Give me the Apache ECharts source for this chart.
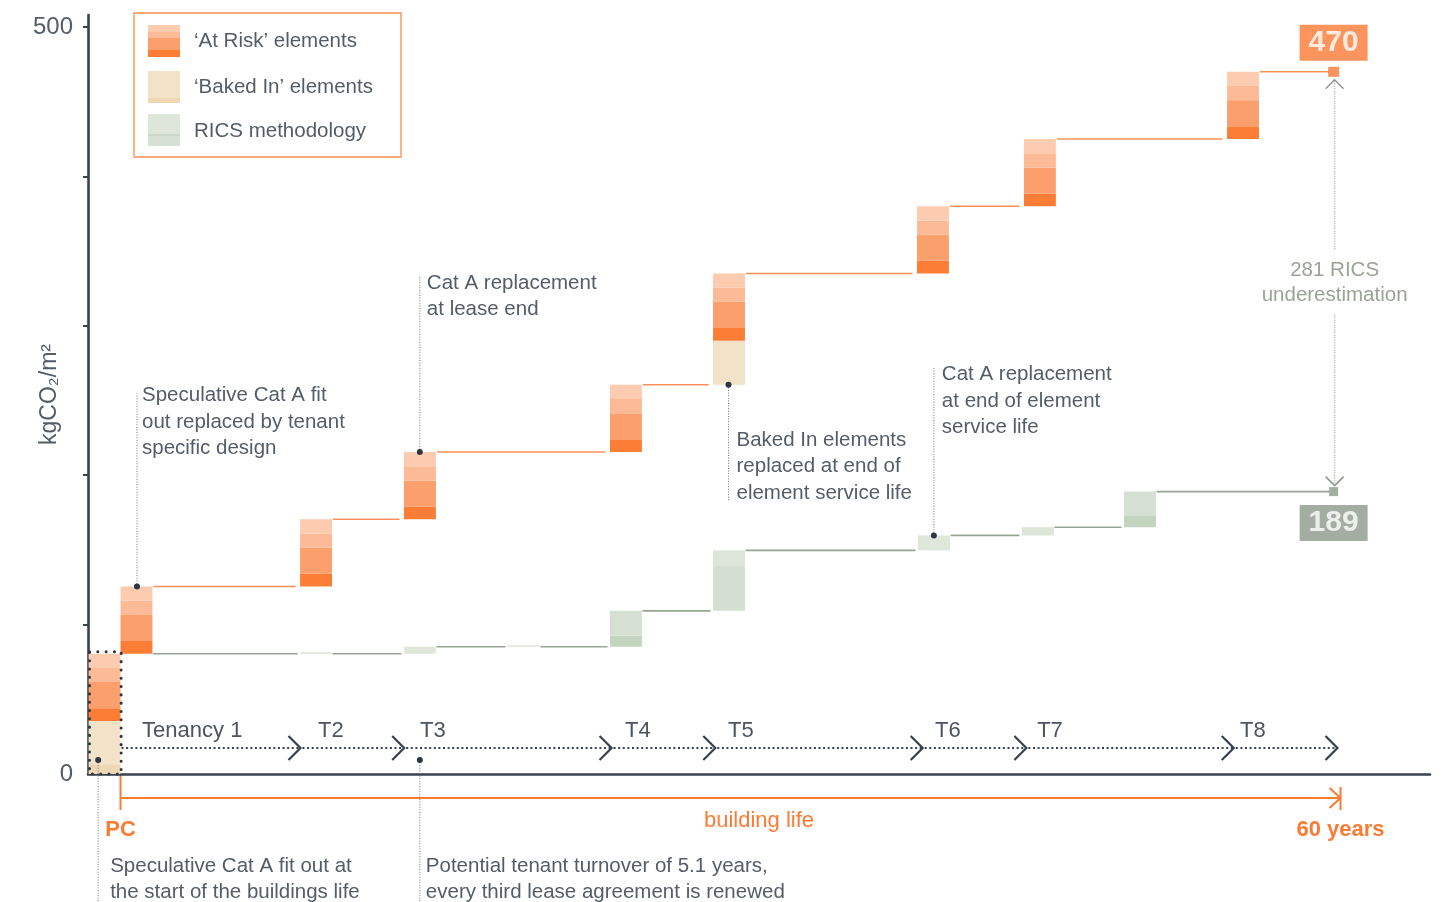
<!DOCTYPE html>
<html><head><meta charset="utf-8">
<script src="https://cdn.jsdelivr.net/npm/echarts@6/dist/echarts.min.js"></script>
<style>html,body{margin:0;padding:0;background:#fff}#c{width:1452px;height:902px}</style>
</head><body><div id="c"></div>
<script>
// ---------------- DATA (years, kgCO2/m2) ----------------
const atRiskYears = [-1.57, 0, 8.83, 13.94, 24.07, 29.14, 39.17, 44.43, 54.42]; // PC + replacements
const atRiskParts = [8.5, 17.5, 9.5, 9.5];          // bottom -> top element groups
const bakedInPC = [6, 29.5];                         // bottom -> top
const bakedInReplaceYears = [29.14];
const bakedInReplaceValues = [29.5];
const ricsYears = [8.83, 13.94, 19.05, 24.07, 29.14, 39.22, 44.33, 49.35];
const ricsParts = [[0], [4.7], [0], [7.5, 16.5], [30.5, 10], [10], [5.5], [7.4, 16.4]];
const finalYear = 59.66;
const buildingLife = 60;
const tenancyBounds = [0, 8.85, 13.95, 24.15, 29.25, 39.45, 44.55, 54.75, 59.85];
const tenancyLabels = ['Tenancy 1', 'T2', 'T3', 'T4', 'T5', 'T6', 'T7', 'T8'];
const tenancyLabelYears = [1.06, 9.71, 14.73, 24.81, 29.88, 40.06, 45.08, 55.06];
const yTicks = [100, 200, 300, 400, 500];
const yLabels = [0, 500];

(function () {
// ---------------- STYLE ----------------
const FONT = 'Liberation Sans';
const TXT = '#545C69';
const DARK = '#38414E';
const ORANGE = '#FB7B35';
const barW = 1.57;
const atRiskColors = ['#FB7D36', '#FB9F6C', '#FCBA96', '#FDCBB0'];
const bakedColors = ['#EDD7B5', '#F2E2C8'];
const ricsColors = [['#DCE4D8'], ['#DFE7DB'], ['#DCE4D8'], ['#C3D5BE', '#D5DFD2'], ['#D5DFD1', '#DDE5D9'], ['#DFE7DB'], ['#DDE5D9'], ['#C3D5BE', '#D5DFD2']];
const PAL = [];
const ci = c => { let i = PAL.indexOf(c); if (i < 0) { PAL.push(c); i = PAL.length - 1; } return i; };

// ---------------- BUILD BLOCKS ----------------
const atRiskData = [], bakedData = [], ricsData = [], orangeLines = [], greenLines = [];
let level = 0;
const orangeBars = [];
atRiskYears.forEach((yr, i) => {
  if (i === 0) bakedInPC.forEach((v, k) => { bakedData.push([yr, level, yr + barW, level + v, ci(bakedColors[k])]); level += v; });
  const bi = bakedInReplaceYears.indexOf(yr);
  if (bi >= 0) { bakedData.push([yr, level, yr + barW, level + bakedInReplaceValues[bi], ci(bakedColors[1])]); level += bakedInReplaceValues[bi]; }
  atRiskParts.forEach((v, k) => { atRiskData.push([yr, level, yr + barW, level + v, ci(atRiskColors[k])]); level += v; });
  orangeBars.push({ x: yr, top: level });
});
const orangeTotal = level;
orangeBars.forEach((b, i) => {
  const x0 = b.x + barW + 0.05;
  const x1 = (i < orangeBars.length - 1 ? orangeBars[i + 1].x : finalYear) - 0.22;
  if (x1 > x0) orangeLines.push([x0, x1, b.top]);
});
let g = orangeBars[0].top;
let prevRight = atRiskYears[1] + barW;
ricsYears.forEach((yr, i) => {
  greenLines.push([prevRight + 0.03, yr - 0.12, g]);
  ricsParts[i].forEach((v, k) => { ricsData.push([yr, g, yr + barW, g + v, ci(ricsColors[i][k])]); g += v; });
  prevRight = yr + barW;
});
greenLines.push([prevRight + 0.03, finalYear - 0.2, g]);
const ricsTotal = g;

function blockRender(params, api) {
  const p0 = api.coord([api.value(0), api.value(1)]);
  const p1 = api.coord([api.value(2), api.value(3)]);
  const h = Math.max(p0[1] - p1[1], 1.5);
  return { type: 'rect', shape: { x: p0[0], y: p0[1] - h, width: p1[0] - p0[0], height: h }, style: { fill: PAL[api.value(4)] } };
}
function lineRender(color) {
  return function (params, api) {
    const a = api.coord([api.value(0), api.value(2)]), b = api.coord([api.value(1), api.value(2)]);
    return { type: 'line', shape: { x1: a[0], y1: a[1], x2: b[0], y2: b[1] }, style: { stroke: color, lineWidth: 1.6 } };
  };
}
const tenancyData = tenancyLabels.map((t, i) => [tenancyBounds[i], tenancyBounds[i + 1], i, tenancyLabelYears[i]]);
function tenancyRender(params, api) {
  const idx = api.value(2);
  const base = api.coord([0, 0])[1];
  const y = base - 26;
  const a = api.coord([api.value(0), 0])[0] + (idx === 0 ? 1 : 2);
  const b = api.coord([api.value(1), 0])[0];
  const lx = api.coord([api.value(3), 0])[0];
  return {
    type: 'group', children: [
      { type: 'line', shape: { x1: a, y1: y, x2: b - 1, y2: y }, style: { stroke: DARK, lineWidth: 2, lineDash: [2, 2.6] } },
      { type: 'polyline', shape: { points: [[b - 12, y - 12], [b, y], [b - 12, y + 12]] }, style: { stroke: DARK, lineWidth: 2.2, fill: null } },
      { type: 'text', style: { text: tenancyLabels[idx], x: lx, y: y - 17, fontSize: 22, fontFamily: FONT, fill: '#4C5461', verticalAlign: 'middle', align: 'left' } }
    ]
  };
}

const chart = echarts.init(document.getElementById('c'), null, { renderer: 'canvas' });
chart.setOption({
  animation: false,
  backgroundColor: '#fff',
  grid: { left: 88, right: 22, top: 15, bottom: 128, outerBoundsMode: 'none', containLabel: false },
  xAxis: { type: 'value', min: -1.6, max: 64.4, axisLine: { show: true, onZero: false, lineStyle: { color: DARK, width: 2.6 } }, axisTick: { show: false }, axisLabel: { show: false }, splitLine: { show: false } },
  yAxis: {
    type: 'value', min: 0, max: 508,
    name: 'kgCO₂/m²', nameLocation: 'middle', nameGap: 27, nameMoveOverlap: false,
    nameTextStyle: { fontSize: 23, color: TXT, fontFamily: FONT },
    axisLine: { show: true, onZero: false, lineStyle: { color: DARK, width: 2.6 } },
    axisTick: { show: true, length: 5, customValues: yTicks, lineStyle: { color: DARK, width: 2 } },
    axisLabel: { customValues: yLabels, fontSize: 24, color: TXT, fontFamily: FONT, margin: 15 },
    splitLine: { show: false }
  },
  series: [
    { type: 'custom', name: 'green lines', renderItem: lineRender('#97A593'), data: greenLines, z: 2 },
    { type: 'custom', name: 'orange lines', renderItem: lineRender('#FB9058'), data: orangeLines, z: 2 },
    { type: 'custom', name: 'RICS methodology', renderItem: blockRender, data: ricsData, z: 3 },
    { type: 'custom', name: 'Baked In', renderItem: blockRender, data: bakedData, z: 3 },
    { type: 'custom', name: 'At Risk', renderItem: blockRender, data: atRiskData, z: 3 },
    { type: 'custom', name: 'tenancy', renderItem: tenancyRender, data: tenancyData, z: 4, clip: false },
    {
      type: 'scatter', symbol: 'rect', z: 6,
      data: [
        { value: [finalYear, orangeTotal], symbolSize: [11, 10], itemStyle: { color: ORANGE },
          label: { show: true, position: 'top', distance: 6, formatter: String(Math.round(orangeTotal)), backgroundColor: ORANGE, color: '#fff', fontSize: 30, fontWeight: 'bold', fontFamily: FONT, width: 68, height: 36, lineHeight: 36, align: 'center' } },
        { value: [finalYear, ricsTotal], symbolSize: [9, 9], itemStyle: { color: '#8C998A' },
          label: { show: true, position: 'bottom', distance: 9, formatter: String(Math.round(ricsTotal)), backgroundColor: '#8C998A', color: '#fff', fontSize: 30, fontWeight: 'bold', fontFamily: FONT, width: 68, height: 36, lineHeight: 36, align: 'center' } }
      ]
    }
  ]
});

// ---------------- ANNOTATIONS / LEGEND (graphic) ----------------
const P = (x, y) => chart.convertToPixel({ gridIndex: 0 }, [x, y]);
const gfx = [];
const FS = 20.5;
// legend
gfx.push({ type: 'rect', shape: { x: 134, y: 13, width: 267, height: 144 }, style: { fill: '#fff', stroke: '#FB8C4F', lineWidth: 1.3 }, z: 10 });
[[25, 7, atRiskColors[3]], [32, 6, atRiskColors[2]], [38, 12, atRiskColors[1]], [50, 7, atRiskColors[0]],
 [71, 27, bakedColors[1]], [98, 5, bakedColors[0]],
 [114, 20, '#DEE6DA'], [134, 2, '#CCD8C8'], [136, 10, '#D6E0D3']].forEach(s => {
  gfx.push({ type: 'rect', shape: { x: 148, y: s[0], width: 32, height: s[1] }, style: { fill: s[2] }, z: 11 });
});
[['‘At Risk’ elements', 41], ['‘Baked In’ elements', 87], ['RICS methodology', 131]].forEach(t => {
  gfx.push({ type: 'text', style: { text: t[0], x: 194, y: t[1], fontSize: FS, fontFamily: FONT, fill: TXT, verticalAlign: 'middle' }, z: 11 });
});

// PC dotted box
const pcTL = P(-1.6, orangeBars[0].top), pcBR = P(0.03, 0);
gfx.push({ type: 'rect', shape: { x: pcTL[0] + 1.5, y: pcTL[1] - 2, width: pcBR[0] - pcTL[0] - 1.5, height: pcBR[1] - pcTL[1] + 2 },
  style: { fill: null, stroke: '#2E3643', lineWidth: 3, lineDash: [0.1, 8.2], lineCap: 'round' }, z: 8 });

// building life
const bl0 = P(0, 0), bl1 = P(buildingLife, 0);
const blY = bl0[1] + 24;
gfx.push({ type: 'line', shape: { x1: bl0[0], y1: bl0[1] + 1, x2: bl0[0], y2: blY + 12 }, style: { stroke: ORANGE, lineWidth: 2 } });
gfx.push({ type: 'line', shape: { x1: bl0[0], y1: blY, x2: bl1[0], y2: blY }, style: { stroke: ORANGE, lineWidth: 2 } });
gfx.push({ type: 'polyline', shape: { points: [[bl1[0] - 11, blY - 10], [bl1[0], blY], [bl1[0] - 11, blY + 10]] }, style: { stroke: ORANGE, lineWidth: 2, fill: null } });
gfx.push({ type: 'line', shape: { x1: bl1[0], y1: blY - 11, x2: bl1[0], y2: blY + 12 }, style: { stroke: ORANGE, lineWidth: 2 } });
gfx.push({ type: 'text', style: { text: 'PC', x: bl0[0], y: blY + 32, fontSize: 22, fontWeight: 'bold', fontFamily: FONT, fill: ORANGE, align: 'center', verticalAlign: 'middle' } });
gfx.push({ type: 'text', style: { text: '60 years', x: bl1[0], y: blY + 32, fontSize: 22, fontWeight: 'bold', fontFamily: FONT, fill: ORANGE, align: 'center', verticalAlign: 'middle' } });
gfx.push({ type: 'text', style: { text: 'building life', x: P(31.4, 0)[0], y: blY + 23, fontSize: 22, fontFamily: FONT, fill: ORANGE, align: 'center', verticalAlign: 'middle' } });

// annotations: anchor in data coords, line end & text offsets in px
const annotations = [
  { at: [0.81, orangeBars[1].top], lineDy: -193, dx: 5, dy: -204, text: 'Speculative Cat A fit\nout replaced by tenant\nspecific design' },
  { at: [14.72, orangeBars[3].top], lineDy: -177, dx: 7, dy: -182, text: 'Cat A replacement\nat lease end' },
  { at: [29.9, orangeBars[4].top], lineDy: 116, dx: 8, dy: 42, text: 'Baked In elements\nreplaced at end of\nelement service life' },
  { at: [40.0, 159.7], lineDy: -169, dx: 8, dy: -174, text: 'Cat A replacement\nat end of element\nservice life' },
  { at: [-1.1, 9.4], lineDy: 150, dx: 12, dy: 93, text: 'Speculative Cat A fit out at\nthe start of the buildings life' },
  { at: [14.72, 9.4], lineDy: 150, dx: 6, dy: 93, text: 'Potential tenant turnover of 5.1 years,\nevery third lease agreement is renewed' }
];
annotations.forEach(a => {
  const p = P(a.at[0], a.at[1]);
  gfx.push({ type: 'line', shape: { x1: p[0], y1: p[1], x2: p[0], y2: p[1] + a.lineDy }, style: { stroke: '#6E7580', lineWidth: 1, lineDash: [1, 1.6] }, z: 7 });
  gfx.push({ type: 'circle', shape: { cx: p[0], cy: p[1], r: 3 }, style: { fill: '#2E3643' }, z: 9 });
  gfx.push({ type: 'text', style: { text: a.text, x: p[0] + a.dx, y: p[1] + a.dy, fontSize: FS, lineHeight: 26.5, fontFamily: FONT, fill: TXT, verticalAlign: 'top' }, z: 7 });
});

// RICS underestimation double arrow
const tA = P(finalYear, orangeTotal), bA = P(finalYear, ricsTotal);
const ax = tA[0] + 1;
const aTop = tA[1] + 8, aBot = bA[1] - 6, aMid = (aTop + aBot) / 2;
const GC = '#8C998A';
gfx.push({ type: 'line', shape: { x1: ax, y1: aTop + 1, x2: ax, y2: aMid - 32 }, style: { stroke: '#A7AFA4', lineWidth: 1.5, lineDash: [1, 1.5] } });
gfx.push({ type: 'line', shape: { x1: ax, y1: aMid + 32, x2: ax, y2: aBot - 1 }, style: { stroke: '#A7AFA4', lineWidth: 1.5, lineDash: [1, 1.5] } });
gfx.push({ type: 'polyline', shape: { points: [[ax - 9, aTop + 9], [ax, aTop], [ax + 9, aTop + 9]] }, style: { stroke: GC, lineWidth: 1.5, fill: null } });
gfx.push({ type: 'polyline', shape: { points: [[ax - 9, aBot - 9], [ax, aBot], [ax + 9, aBot - 9]] }, style: { stroke: GC, lineWidth: 1.5, fill: null } });
gfx.push({ type: 'text', style: { text: Math.round(orangeTotal - ricsTotal) + ' RICS\nunderestimation', x: ax, y: aMid, fontSize: FS, lineHeight: 25, fontFamily: FONT, fill: '#9AA397', align: 'center', verticalAlign: 'middle' } });

chart.setOption({ graphic: gfx });
})();
</script></body></html>
